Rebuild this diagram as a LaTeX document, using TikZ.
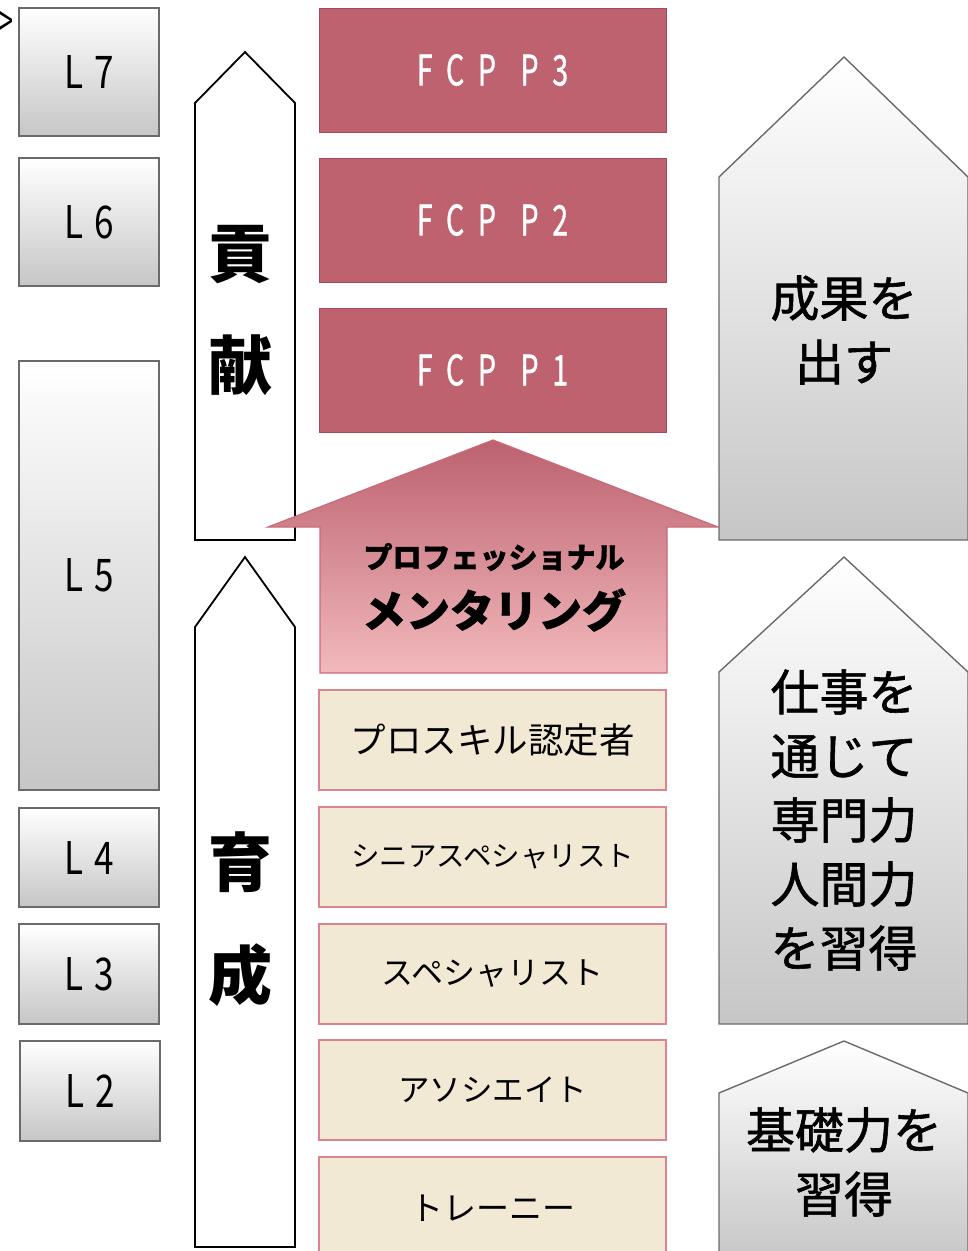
\documentclass[tikz,border=0pt]{standalone}
\usepackage{fontspec}
\setmainfont{Noto Sans CJK JP}
\newfontfamily\medfont{Noto Sans CJK JP}[FakeBold=1.2]
\newfontfamily\heavyfont{Noto Sans CJK JP}[BoldFeatures={FakeBold=1.2}]
\definecolor{lvline}{HTML}{6A6A6A}
\definecolor{lvgray}{HTML}{C6C6C6}
\definecolor{fcpfill}{HTML}{BE6270}
\definecolor{fcpline}{HTML}{A64A58}
\definecolor{mentortop}{HTML}{BC6170}
\definecolor{mentorbot}{HTML}{F2B9BC}
\definecolor{mentorline}{HTML}{C96A78}
\definecolor{rankfill}{HTML}{F2E9D5}
\definecolor{rankline}{HTML}{D9848F}
\newcommand{\narrow}[1]{\scalebox{0.78}[1]{L\hspace{14pt}#1}}
\newcommand{\fcptext}[1]{\scalebox{0.68}[1]{\addfontfeature{LetterSpace=48}FCP\hspace{36pt}P#1}}

\begin{document}
\begin{tikzpicture}[x=1pt, y=1pt,
		every node/.style={inner sep=0pt, align=center},
		lvbox/.style={draw=lvline, line width=1.6pt, top color=white, bottom color=lvgray, minimum width=140pt, font=\fontsize{45}{45}\selectfont},
		fcpbox/.style={draw=fcpline, line width=1pt, fill=fcpfill, minimum width=347pt, minimum height=124pt, text=white, font=\medfont\fontsize{42}{42}\selectfont},
		rankbox/.style={draw=rankline, line width=1.2pt, fill=rankfill, minimum width=347pt, minimum height=100pt},
		bararrow/.style={draw=black, line width=1.8pt, fill=white},
		goal/.style={draw=lvline, line width=1.4pt, top color=white, bottom color=lvgray},
		goaltext/.style={font=\medfont\fontsize{49}{64}\selectfont},
		bigkanji/.style={font=\bfseries\fontsize{64}{64}\selectfont},
	]
	\useasboundingbox (0,0) rectangle (968,-1251);

	\node[anchor=east, font=\fontsize{42}{42}\selectfont] (mark) at (14,-24) {\scalebox{0.6}[1]{>}};

	% levels
	\node[lvbox, minimum height=128pt] (l7) at (89,-72) {\narrow{7}};
	\node[lvbox, minimum height=128pt] (l6) at (89,-222) {\narrow{6}};
	\node[lvbox, minimum height=429pt] (l5) at (89,-575.5) {\narrow{5}};
	\node[lvbox, minimum height=99pt] (l4) at (89,-857.5) {\narrow{4}};
	\node[lvbox, minimum height=100pt] (l3) at (89,-974) {\narrow{3}};
	\node[lvbox, minimum height=100pt] (l2) at (90,-1091) {\narrow{2}};

	% contribution / growth
	\draw[bararrow] (195,-540) -- (195,-103) -- (245,-52) -- (295,-103) -- (295,-540) -- cycle;
	\draw[bararrow] (195,-1247) -- (195,-627) -- (245,-557) -- (295,-627) -- (295,-1247) -- cycle;
	\node[bigkanji] (kou) at (240,-255) {貢};
	\node[bigkanji] (ken) at (240,-365) {献};
	\node[bigkanji] (iku) at (240,-862) {育};
	\node[bigkanji] (sei) at (240,-975) {成};

	% FCP
	\node[fcpbox] (p3) at (492.5,-70) {\fcptext{3}};
	\node[fcpbox] (p2) at (492.5,-220) {\fcptext{2}};
	\node[fcpbox] (p1) at (492.5,-370) {\fcptext{1}};

	% mentoring
	\draw[draw=mentorline, line width=1.2pt, top color=mentortop, bottom color=mentorbot]
		(493,-440) -- (718,-527) -- (667,-527) -- (667,-673) -- (320,-673) -- (320,-527) -- (268,-527) -- cycle;
	\node[font=\heavyfont\bfseries\fontsize{29}{29}\selectfont] (pro) at (494,-557) {プロフェッショナル};
	\node[font=\heavyfont\bfseries\fontsize{44}{44}\selectfont] (mentor) at (494,-610) {メンタリング};

	% ranks
	\node[rankbox, font=\fontsize{35.5}{35.5}\selectfont] (r5) at (492.5,-740) {プロスキル認定者};
	\node[rankbox, font=\fontsize{28.5}{28.5}\selectfont] (r4) at (492.5,-857) {シニアスペシャリスト};
	\node[rankbox, font=\fontsize{32}{32}\selectfont] (r3) at (492.5,-974) {スペシャリスト};
	\node[rankbox, font=\fontsize{31.5}{31.5}\selectfont] (r2) at (492.5,-1090) {アソシエイト};
	\node[rankbox, minimum height=105pt] (r1) at (492.5,-1209.5) {};
	\node[font=\fontsize{33}{33}\selectfont] (r1t) at (492.5,-1208) {トレーニー};

	% goals
	\draw[goal] (719,-540) -- (719,-177) -- (844,-57) -- (968,-177) -- (968,-540) -- cycle;
	\draw[goal] (719,-1024) -- (719,-672) -- (844,-557) -- (968,-672) -- (968,-1024) -- cycle;
	\draw[goal] (719,-1262) -- (719,-1093) -- (844,-1041) -- (968,-1093) -- (968,-1262) -- cycle;
	\node[goaltext] (g3) at (844,-330) {成果を\\出す};
	\node[goaltext] (g2) at (844,-820) {仕事を\\通じて\\専門力\\人間力\\を習得};
	\node[goaltext] (g1) at (844,-1162) {基礎力を\\習得};
\end{tikzpicture}
\end{document}
